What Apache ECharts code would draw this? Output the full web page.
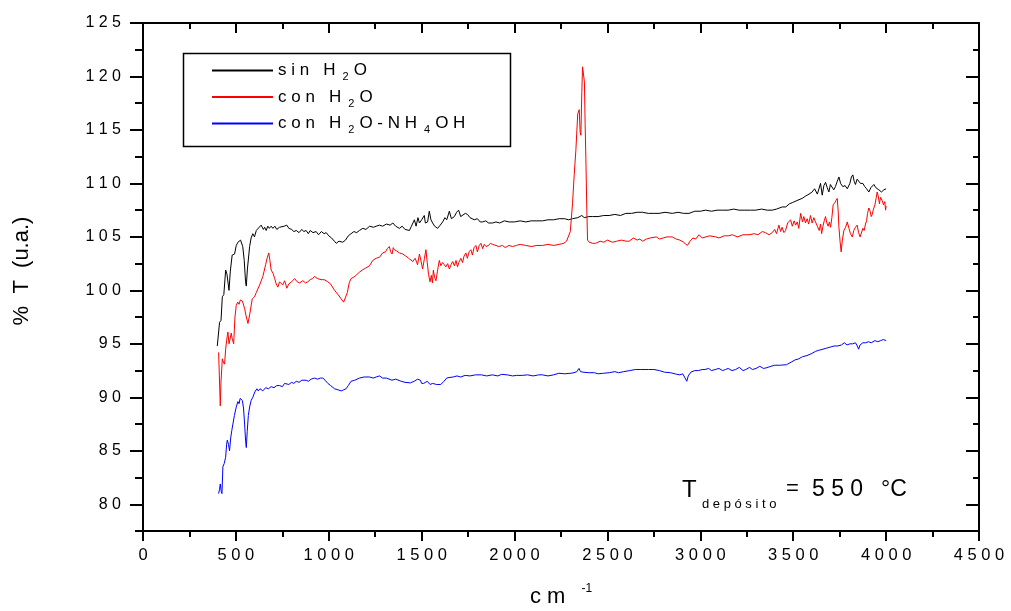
<!DOCTYPE html>
<html>
<head>
<meta charset="utf-8">
<script src="https://cdn.jsdelivr.net/npm/echarts@6/dist/echarts.min.js"></script>
<style>html,body{margin:0;padding:0;background:#fff}#c{width:1011px;height:611px}</style>
</head>
<body>
<div id="c"></div>
<script>
// ---- data ----
const seriesNames = ['sin H2O', 'con H2O', 'con H2O-NH4OH'];
const xTicks = [0, 500, 1000, 1500, 2000, 2500, 3000, 3500, 4000, 4500];
const yTicks = [80, 85, 90, 95, 100, 105, 110, 115, 120, 125];
const yMinorTicks = [77.5, 82.5, 87.5, 92.5, 97.5, 102.5, 107.5, 112.5, 117.5, 122.5];

const sinH2O = [
[400,94.8],[412,97.0],[420,97.2],[427,99.4],[435,99.6],[445,101.9],[452,101.5],[463,100.0],[470,101.8],[480,103.3],
[493,103.4],[502,104.2],[511,104.5],[525,104.7],[537,104.1],[545,102.8],[552,100.8],[556,100.4],[562,102.0],[574,104.1],
[582,104.9],[591,105.3],[600,105.0],[610,105.6],[620,105.5],[636,106.1],[648,105.7],[655,105.9],[663,105.6],[672,106.0],
[680,105.8],[690,106.0],[699,105.8],[710,106.0],[720,105.7],[735,105.9],[745,105.8],[760,106.0],[774,106.1],[785,105.8],
[800,105.7],[812,105.5],[825,105.6],[840,105.4],[855,105.7],[865,105.5],[878,105.6],[890,105.3],[900,105.6],[915,105.4],
[932,105.5],[945,105.2],[960,105.5],[975,105.3],[986,105.4],[1000,105.1],[1015,104.9],[1030,104.6],[1040,104.4],[1055,104.6],
[1075,104.5],[1090,104.7],[1105,105.1],[1120,105.3],[1135,105.5],[1150,105.4],[1165,105.6],[1183,105.8],[1200,105.7],[1220,106.0],
[1240,105.9],[1255,106.0],[1273,106.1],[1290,106.0],[1310,106.2],[1330,106.1],[1345,106.3],[1360,106.0],[1380,105.8],[1395,106.0],
[1410,105.7],[1434,105.6],[1445,106.0],[1461,106.6],[1470,106.0],[1480,106.8],[1488,106.3],[1500,106.6],[1514,107.0],[1520,106.3],
[1532,106.4],[1541,107.4],[1550,106.6],[1559,106.3],[1570,106.0],[1586,105.8],[1600,106.1],[1613,106.4],[1625,106.8],[1635,106.6],
[1649,107.4],[1660,106.7],[1676,106.9],[1688,107.3],[1699,107.5],[1710,106.9],[1720,106.9],[1735,107.2],[1747,107.1],[1760,106.8],
[1783,106.6],[1800,106.7],[1815,106.4],[1828,106.4],[1845,106.5],[1860,106.3],[1882,106.3],[1900,106.4],[1920,106.3],[1945,106.5],
[1971,106.4],[2000,106.4],[2030,106.5],[2061,106.4],[2090,106.5],[2120,106.5],[2151,106.5],[2180,106.6],[2210,106.6],[2240,106.7],
[2270,106.7],[2290,106.6],[2312,106.7],[2340,106.8],[2362,107.0],[2375,106.8],[2384,106.7],[2400,106.9],[2419,106.9],[2450,106.9],
[2480,107.0],[2509,107.0],[2540,107.1],[2570,107.0],[2599,107.2],[2630,107.2],[2660,107.3],[2688,107.3],[2720,107.2],[2750,107.2],
[2778,107.2],[2810,107.3],[2849,107.2],[2880,107.3],[2910,107.2],[2939,107.2],[2970,107.4],[3000,107.4],[3029,107.5],[3060,107.4],
[3090,107.5],[3118,107.5],[3150,107.5],[3180,107.6],[3208,107.5],[3240,107.5],[3270,107.5],[3298,107.5],[3330,107.6],[3360,107.5],
[3387,107.5],[3410,107.6],[3441,107.8],[3460,107.8],[3480,108.1],[3495,108.2],[3520,108.4],[3548,108.6],[3565,108.8],[3585,109.0],
[3602,109.2],[3615,109.5],[3630,109.0],[3647,110.0],[3656,108.9],[3665,109.8],[3674,110.1],[3683,109.6],[3692,109.2],[3700,109.9],
[3710,109.8],[3718,109.4],[3727,109.7],[3737,110.2],[3746,110.6],[3755,110.0],[3767,109.7],[3779,109.8],[3791,109.5],[3805,110.0],
[3813,110.6],[3821,110.8],[3828,110.2],[3835,109.9],[3844,110.4],[3853,110.5],[3862,110.0],[3875,110.0],[3885,109.7],[3895,109.5],
[3907,109.2],[3918,109.6],[3934,109.9],[3945,109.6],[3961,109.4],[3975,109.2],[3988,109.4],[4000,109.5]
];

const conH2O = [
[407,94.2],[411,92.0],[416,89.2],[420,91.5],[427,93.6],[432,93.3],[439,93.1],[445,94.5],[450,95.3],[457,96.1],
[463,95.0],[470,94.9],[475,96.0],[480,95.5],[488,95.0],[495,97.5],[502,98.6],[510,98.9],[517,98.7],[524,99.1],
[535,99.0],[547,98.3],[555,97.6],[565,96.9],[575,97.8],[588,99.2],[600,99.4],[610,99.8],[618,99.9],[630,100.6],
[645,101.3],[652,101.8],[660,102.4],[668,103.0],[677,103.5],[683,102.8],[690,101.9],[700,101.6],[709,101.1],[717,100.6],
[726,100.3],[735,100.8],[744,100.9],[752,100.5],[762,100.9],[768,100.6],[774,100.2],[785,100.6],[800,100.8],[816,101.1],
[830,100.8],[843,100.7],[860,100.9],[875,100.7],[887,100.8],[900,101.0],[912,101.1],[923,101.3],[940,101.1],[959,101.0],
[975,101.0],[995,100.8],[1010,100.6],[1031,100.0],[1050,99.6],[1067,99.2],[1080,98.9],[1088,98.8],[1100,99.8],[1110,100.7],
[1120,101.1],[1140,101.3],[1165,101.7],[1180,101.9],[1200,102.1],[1219,102.3],[1237,102.8],[1255,103.0],[1273,103.1],[1290,103.5],
[1305,103.6],[1315,103.9],[1326,104.1],[1333,103.6],[1341,103.4],[1347,104.0],[1353,103.8],[1365,103.7],[1380,103.5],[1398,103.4],
[1415,103.2],[1430,103.0],[1452,102.7],[1465,103.0],[1478,102.4],[1488,103.4],[1496,102.8],[1505,102.0],[1515,103.0],[1523,103.8],
[1530,102.6],[1537,101.5],[1545,100.8],[1552,101.4],[1558,100.7],[1563,101.9],[1570,101.2],[1577,100.9],[1585,101.8],[1595,102.8],
[1603,102.3],[1612,102.6],[1622,102.4],[1630,102.2],[1640,102.5],[1649,102.0],[1658,102.4],[1667,102.7],[1676,102.3],[1685,102.8],
[1693,102.2],[1700,102.6],[1711,103.0],[1720,102.6],[1728,103.2],[1738,103.5],[1746,103.0],[1755,103.6],[1765,103.8],[1773,103.3],
[1782,104.0],[1792,104.2],[1800,103.6],[1810,104.2],[1819,104.4],[1828,103.9],[1837,104.3],[1846,104.1],[1860,104.2],[1870,104.4],
[1882,104.3],[1900,104.2],[1915,104.1],[1935,104.2],[1950,104.0],[1970,104.2],[1989,104.1],[2010,104.2],[2030,104.3],[2061,104.2],
[2090,104.1],[2120,104.2],[2151,104.2],[2180,104.3],[2210,104.2],[2240,104.3],[2265,104.4],[2280,104.6],[2290,104.7],[2300,105.5],
[2312,108.1],[2321,110.8],[2330,113.1],[2340,116.5],[2348,116.9],[2353,114.8],[2357,114.5],[2362,118.5],[2366,120.9],[2371,121.0],
[2376,119.5],[2380,115.5],[2384,112.2],[2389,107.5],[2393,104.7],[2402,104.5],[2420,104.4],[2437,104.4],[2460,104.6],[2480,104.5],
[2500,104.7],[2527,104.5],[2550,104.6],[2575,104.7],[2600,104.6],[2617,104.6],[2640,104.9],[2660,104.7],[2673,104.8],[2690,104.6],
[2710,104.8],[2730,104.9],[2763,105.0],[2780,104.8],[2800,104.9],[2820,105.0],[2849,105.0],[2870,104.8],[2890,104.7],[2910,104.5],
[2930,104.2],[2945,104.6],[2960,104.9],[2975,104.8],[2993,105.2],[3010,104.9],[3030,105.0],[3050,105.1],[3083,105.0],[3100,104.9],
[3130,105.1],[3150,105.1],[3172,105.2],[3200,105.0],[3230,105.2],[3262,105.2],[3290,105.3],[3310,105.2],[3334,105.5],[3350,105.4],
[3370,105.2],[3387,105.4],[3400,105.7],[3410,105.3],[3423,106.1],[3432,105.5],[3440,105.9],[3450,105.4],[3459,105.6],[3470,106.3],
[3486,106.6],[3495,106.0],[3505,106.5],[3513,106.1],[3522,106.4],[3530,105.8],[3540,107.2],[3550,106.4],[3557,106.9],[3566,106.3],
[3575,106.7],[3583,106.2],[3593,107.0],[3602,106.3],[3611,106.8],[3620,106.4],[3630,106.0],[3640,105.6],[3647,106.2],[3653,105.3],
[3660,106.0],[3667,106.5],[3674,106.9],[3681,106.3],[3688,106.0],[3695,106.4],[3701,105.9],[3708,106.8],[3715,108.0],[3724,108.2],
[3730,108.4],[3737,108.6],[3742,107.4],[3746,105.9],[3752,104.6],[3758,103.6],[3765,104.8],[3773,105.6],[3782,105.9],[3791,106.4],
[3800,105.8],[3808,105.3],[3818,105.0],[3826,105.6],[3835,105.9],[3844,106.1],[3852,105.4],[3860,105.0],[3868,105.0],[3875,105.8],
[3882,105.6],[3889,106.2],[3895,106.5],[3900,107.2],[3907,107.7],[3914,107.4],[3920,106.9],[3925,107.1],[3932,107.6],[3940,108.0],
[3946,108.6],[3952,109.2],[3958,108.8],[3964,108.1],[3970,108.7],[3979,108.4],[3986,108.0],[3993,108.3],[3997,107.5],[4000,107.9]
];

const conH2ONH4OH = [
[407,81.0],[412,81.4],[416,81.9],[421,81.2],[425,81.0],[430,83.5],[437,83.8],[445,84.4],[450,85.6],[454,86.0],
[460,85.6],[466,85.0],[472,86.2],[478,86.9],[484,87.5],[492,88.3],[502,89.1],[511,89.6],[517,89.4],[523,89.9],
[529,90.0],[535,89.7],[541,89.0],[547,87.5],[552,86.0],[556,85.3],[561,86.8],[567,88.3],[574,89.1],[582,89.7],
[591,90.0],[602,90.5],[613,90.8],[620,90.6],[630,90.8],[645,90.6],[660,90.9],[675,90.8],[690,91.0],[705,90.9],
[720,91.1],[735,91.1],[750,91.0],[762,91.3],[771,91.3],[785,91.2],[800,91.4],[812,91.3],[825,91.5],[840,91.4],
[855,91.6],[865,91.5],[878,91.6],[890,91.5],[905,91.7],[923,91.8],[940,91.7],[955,91.8],[968,91.8],[980,91.6],
[995,91.3],[1010,91.1],[1031,90.8],[1050,90.7],[1067,90.6],[1080,90.7],[1093,90.8],[1105,91.1],[1120,91.5],[1140,91.6],
[1165,91.8],[1190,91.9],[1219,91.9],[1240,91.8],[1255,91.9],[1273,92.0],[1290,91.8],[1310,91.8],[1340,91.6],[1360,91.7],
[1390,91.5],[1410,91.4],[1439,91.35],[1460,91.5],[1478,91.7],[1493,91.6],[1500,91.3],[1511,91.3],[1530,91.5],[1545,91.2],
[1559,91.3],[1580,91.2],[1603,91.2],[1620,91.5],[1635,91.8],[1647,91.85],[1670,91.9],[1690,92.0],[1710,91.9],[1734,92.05],
[1760,92.0],[1790,92.1],[1822,92.1],[1850,92.0],[1880,92.1],[1910,92.0],[1931,92.15],[1960,92.1],[1990,92.0],[2010,92.05],
[2041,92.05],[2070,92.1],[2100,92.0],[2130,92.1],[2150,92.1],[2180,92.0],[2210,92.1],[2238,92.25],[2270,92.2],[2303,92.25],
[2320,92.3],[2335,92.4],[2347,92.7],[2355,92.4],[2369,92.35],[2400,92.3],[2430,92.3],[2450,92.2],[2479,92.25],[2510,92.3],
[2540,92.4],[2560,92.3],[2588,92.4],[2620,92.5],[2650,92.6],[2680,92.6],[2697,92.6],[2720,92.6],[2750,92.6],[2780,92.5],
[2807,92.35],[2840,92.3],[2873,92.15],[2890,92.1],[2905,92.2],[2918,91.8],[2927,91.5],[2935,92.0],[2949,92.35],[2970,92.5],
[2990,92.5],[3010,92.6],[3025,92.6],[3045,92.7],[3060,92.5],[3080,92.6],[3100,92.7],[3120,92.5],[3135,92.6],[3150,92.7],
[3170,92.5],[3190,92.6],[3210,92.8],[3230,92.5],[3245,92.6],[3265,92.8],[3280,92.6],[3300,92.7],[3320,92.9],[3340,92.7],
[3354,92.75],[3380,92.9],[3400,93.0],[3430,93.0],[3464,93.05],[3490,93.3],[3510,93.5],[3530,93.6],[3550,93.8],[3574,93.9],
[3600,94.1],[3620,94.3],[3638,94.4],[3660,94.5],[3680,94.6],[3700,94.7],[3720,94.8],[3740,94.8],[3760,94.9],[3775,95.1],
[3790,94.9],[3805,95.0],[3820,95.0],[3835,95.1],[3845,94.8],[3852,94.5],[3860,94.9],[3875,95.1],[3890,95.1],[3905,95.2],
[3920,95.1],[3940,95.3],[3955,95.2],[3970,95.3],[3985,95.4],[4000,95.3]
];

// ---- rendering ----
const FONT = '"Liberation Sans", Arial, sans-serif';
const spaced = s => String(s).split('').join(' ');
const legendRich = {
  'sin H2O': '{t|s i n   H}{s|2}{t|O}',
  'con H2O': '{t|c o n   H}{s|2}{t|O}',
  'con H2O-NH4OH': '{t|c o n   H}{s|2}{t|O - N H}{s|4}{t|O H}'
};
const Y_MIN = 77.5, Y_MAX = 125;
const axisLineStyle = { color: '#000', width: 2 };

function yAx(pos, inside, values, len, showLine, showLabel) {
  return {
    type: 'value', position: pos, min: Y_MIN, max: Y_MAX, offset: 0,
    axisLine: { show: showLine, lineStyle: axisLineStyle },
    axisTick: { show: true, inside: inside, length: len, customValues: values, lineStyle: { color: '#000', width: 2 } },
    axisLabel: showLabel ? {
      show: true, customValues: values, margin: 22, color: '#000', fontSize: 16, fontFamily: FONT,
      formatter: v => spaced(v)
    } : { show: false },
    splitLine: { show: false },
    name: showLabel ? '%  T  (u.a.)' : '',
    nameLocation: 'middle', nameGap: 110, nameRotate: 90,
    nameTextStyle: { color: '#000', fontSize: 22, fontFamily: FONT, padding: [0, 0, 0, 12] }
  };
}

const chart = echarts.init(document.getElementById('c'), null, { renderer: 'canvas' });
chart.setOption({
  animation: false,
  backgroundColor: '#fff',
  grid: { left: 143, right: 32, top: 23, bottom: 80, containLabel: false, outerBoundsMode: 'none' },
  legend: {
    orient: 'vertical', left: 181, top: 51,
    padding: [11, 10, 10, 30], itemGap: 6, itemWidth: 61, itemHeight: 14,
    data: seriesNames,
    itemStyle: { opacity: 0, borderWidth: 0 },
    formatter: name => legendRich[name],
    textStyle: {
      color: '#000', fontFamily: FONT, fontSize: 17,
      rich: {
        t: { fontSize: 17, fontFamily: FONT, color: '#000' },
        s: { fontSize: 11, fontFamily: FONT, color: '#000', padding: [13, 5, 0, 7] }
      }
    }
  },
  graphic: [
    { type: 'rect', left: 181, top: 51, shape: { width: 327, height: 93 }, style: { fill: 'none', stroke: '#000', lineWidth: 1.5 }, z: 100 },
    { type: 'text', left: 682, top: 478, style: { text: 'T', font: '24px ' + FONT, fill: '#000' } },
    { type: 'text', left: 702, top: 498, style: { text: spaced('depósito'), font: '13px ' + FONT, fill: '#000' } },
    { type: 'text', left: 786, top: 478, style: { text: '=', font: '22px ' + FONT, fill: '#000' } },
    { type: 'text', left: 812, top: 478, style: { text: spaced('550'), font: '23px ' + FONT, fill: '#000' } },
    { type: 'text', left: 881, top: 478, style: { text: '°C', font: '23px ' + FONT, fill: '#000' } }
  ],
  xAxis: [
    {
      type: 'value', position: 'bottom', min: 0, max: 4500, interval: 500,
      axisLine: { show: true, lineStyle: axisLineStyle },
      axisTick: { show: true, inside: false, length: 10, lineStyle: { color: '#000', width: 2 } },
      minorTick: { show: true, splitNumber: 2, length: 6, lineStyle: { color: '#000', width: 2 } },
      axisLabel: { color: '#000', fontSize: 16.5, fontFamily: FONT, margin: 16, formatter: v => spaced(v) },
      splitLine: { show: false }, minorSplitLine: { show: false },
      name: '{a|c m}{b|-1}', nameLocation: 'middle', nameGap: 52,
      nameTextStyle: {
        color: '#000', fontFamily: FONT,
        rich: {
          a: { fontSize: 22, fontFamily: FONT, color: '#000' },
          b: { fontSize: 12, fontFamily: FONT, color: '#000', padding: [0, 0, 16, 16] }
        }
      }
    },
    {
      type: 'value', position: 'top', min: 0, max: 4500, interval: 500,
      axisLine: { show: true, lineStyle: axisLineStyle },
      axisTick: { show: true, inside: true, length: 10, lineStyle: { color: '#000', width: 2 } },
      minorTick: { show: true, splitNumber: 2, length: 6, lineStyle: { color: '#000', width: 2 } },
      axisLabel: { show: false }, splitLine: { show: false }
    }
  ],
  yAxis: [
    yAx('left', false, yTicks, 13, true, true),
    yAx('left', false, yMinorTicks, 8, false, false),
    yAx('right', true, yTicks, 13, true, false),
    yAx('right', true, yMinorTicks, 6, false, false)
  ],
  series: [
    { name: seriesNames[0], type: 'line', data: sinH2O, xAxisIndex: 0, yAxisIndex: 0, symbol: 'none', showSymbol: false, lineStyle: { color: '#000000', width: 1 }, itemStyle: { color: '#000000' } },
    { name: seriesNames[1], type: 'line', data: conH2O, xAxisIndex: 0, yAxisIndex: 0, symbol: 'none', showSymbol: false, lineStyle: { color: '#ff0000', width: 1 }, itemStyle: { color: '#ff0000' } },
    { name: seriesNames[2], type: 'line', data: conH2ONH4OH, xAxisIndex: 0, yAxisIndex: 0, symbol: 'none', showSymbol: false, lineStyle: { color: '#0000ff', width: 1 }, itemStyle: { color: '#0000ff' } }
  ]
});
</script>
</body>
</html>
